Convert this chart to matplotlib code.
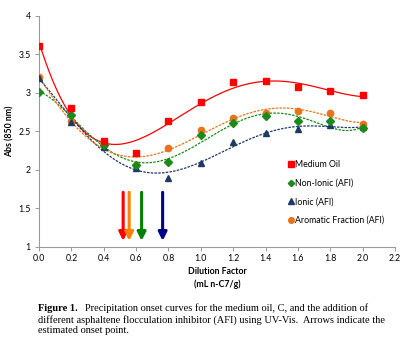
import numpy as np
import matplotlib
matplotlib.use("Agg")
import matplotlib.pyplot as plt

dilution = [0.0, 0.2, 0.4, 0.6, 0.8, 1.0, 1.2, 1.4, 1.6, 1.8, 2.0]
medium_oil = [3.61, 2.81, 2.38, 2.22, 2.63, 2.88, 3.14, 3.15, 3.08, 3.02, 2.97]
non_ionic = [3.01, 2.71, 2.32, 2.06, 2.10, 2.45, 2.61, 2.70, 2.63, 2.63, 2.54]
ionic = [3.20, 2.62, 2.30, 2.03, 1.90, 2.09, 2.36, 2.48, 2.53, 2.58, 2.56]
aromatic = [3.21, 2.63, 2.33, 2.06, 2.28, 2.52, 2.67, 2.74, 2.77, 2.74, 2.60]

onset_x = [0.52, 0.557, 0.634, 0.764]
onset_colors = ["#FF0000", "#FF7F00", "#008000", "#00008B"]
arrow_top, arrow_bottom = 1.71, 1.08

# name, values, colour, marker, linestyle, marker size, trendline order
series = [
    ("Medium Oil", medium_oil, "#FF0000", "s", "-", 4.5, 4),
    ("Non-Ionic (AFI)", non_ionic, "#1A8A1A", "D", (0, (2, 1)), 3.6, 5),
    ("Ionic (AFI)", ionic, "#1F3864", "^", (0, (2, 1)), 4.5, 5),
    ("Aromatic Fraction (AFI)", aromatic, "#E8731A", "o", (0, (2, 1)), 4.5, 5),
]

plt.rcParams["font.family"] = ["Lato", "DejaVu Sans"]

fig = plt.figure(figsize=(4.12, 3.43), dpi=100)
ax = fig.add_axes([0.0947, 0.2799, 0.864, 0.6735])

xs = np.linspace(0, 2.0, 200)
for name, vals, color, mk, ls, ms, deg in series:
    coef = np.polyfit(dilution, vals, deg)
    ax.plot(xs, np.polyval(coef, xs), color=color, ls=ls, lw=0.9, zorder=2)

for name, vals, color, mk, ls, ms, deg in reversed(series):
    ax.plot(dilution, vals, ls="none", marker=mk, ms=ms, color=color,
            mec=color, zorder=3, label=name)

for xo, c in zip(onset_x, onset_colors):
    ax.annotate("", xy=(xo, arrow_bottom), xytext=(xo, arrow_top),
                arrowprops=dict(arrowstyle="-|>,head_width=0.25,head_length=0.5",
                                color=c, lw=2.2, shrinkA=0, shrinkB=0),
                zorder=4)

ax.set_xlim(0, 2.2)
ax.set_ylim(1, 4)
ax.set_xticks(np.arange(0, 2.21, 0.2))
ax.set_xticklabels([f"{v:.1f}" for v in np.arange(0, 2.21, 0.2)])
ax.set_yticks([1, 1.5, 2, 2.5, 3, 3.5, 4])
ax.set_yticklabels(["1", "1.5", "2", "2.5", "3", "3.5", "4"])
for s in ["top", "right"]:
    ax.spines[s].set_visible(False)
for s in ["left", "bottom"]:
    ax.spines[s].set_color("#9a9a9a")
    ax.spines[s].set_linewidth(0.8)
ax.tick_params(axis="both", labelsize=6.3, color="#9a9a9a", length=3, width=0.7,
               pad=2, labelcolor="black")
ax.tick_params(axis="y", pad=3)

ax.set_ylabel("Abs (850 nm)", fontsize=6.3, fontweight="bold", labelpad=3)
ax.set_xlabel("Dilution Factor\n(mL n-C7/g)", fontsize=6.3, fontweight="bold",
              labelpad=3, linespacing=1.5)

handles, labels = ax.get_legend_handles_labels()
order = [labels.index(s[0]) for s in series]
leg = ax.legend([handles[i] for i in order], [labels[i] for i in order],
                loc="upper left", bbox_to_anchor=(0.678, 0.41), frameon=False,
                fontsize=6.3, handlelength=0.6, handletextpad=0.15,
                labelspacing=1.1, markerscale=0.9)

cap_size = 7.5
cap_x = 0.092
t1 = fig.text(cap_x, 0.092, "Figure 1.", fontsize=cap_size, fontweight="bold",
              family="Liberation Serif", va="baseline")
fig.canvas.draw()
bb = t1.get_window_extent(renderer=fig.canvas.get_renderer())
x_after = bb.x1 / fig.bbox.width + 7 / fig.bbox.width
fig.text(x_after, 0.092,
         "Precipitation onset curves for the medium oil, C, and the addition of",
         fontsize=cap_size, family="Liberation Serif", va="baseline")
fig.text(cap_x, 0.060,
         "different asphaltene flocculation inhibitor (AFI) using UV-Vis.  Arrows indicate the",
         fontsize=cap_size, family="Liberation Serif", va="baseline")
fig.text(cap_x, 0.028, "estimated onset point.", fontsize=cap_size,
         family="Liberation Serif", va="baseline")

fig.savefig("out.png", dpi=100)
